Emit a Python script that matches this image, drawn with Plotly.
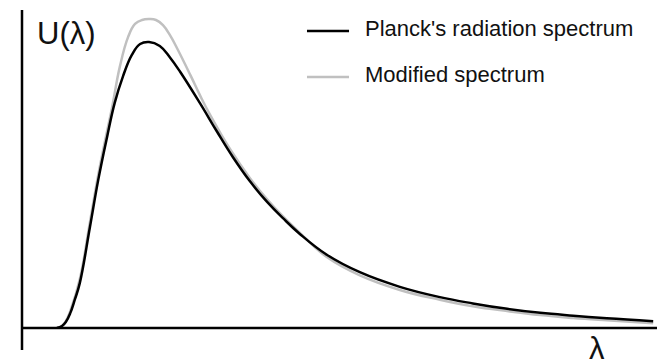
import plotly.graph_objects as go

# Wavelength (arbitrary units) and spectral energy density (arbitrary units)
lam_planck = [0.55, 0.63, 0.69, 0.76, 0.83, 0.91, 1.07, 1.20, 1.34, 1.46, 1.59, 1.73, 1.86, 2.00,
              2.17, 2.33, 2.49, 2.80, 3.07, 3.32, 3.59, 3.86, 4.11, 4.38, 4.80, 5.32, 5.95,
              6.58, 7.10, 7.64, 8.16, 8.68, 9.21, 9.94]
u_planck = [0.0, 0.7, 2.1, 5.2, 9.8, 15.7, 35.3, 51.7, 66.8, 78.7, 88.0, 95.5, 99.3, 100.0,
            98.6, 94.6, 89.6, 78.7, 68.7, 59.8, 51.3, 44.1, 38.4, 32.8, 25.6, 19.5, 14.4,
            10.8, 8.6, 6.7, 5.3, 4.3, 3.4, 2.4]

lam_mod = [0.55, 0.63, 0.69, 0.76, 0.91, 1.07, 1.20, 1.32, 1.42, 1.54, 1.67, 1.78, 1.89, 2.00,
           2.11, 2.22, 2.33, 2.44, 2.65, 2.80, 2.96, 3.28, 3.59, 3.86, 4.11, 4.38, 4.80,
           5.32, 5.95, 6.58, 7.10, 7.64, 8.16, 8.68, 9.21, 9.94]
u_mod = [0.0, 0.7, 2.4, 5.9, 17.1, 37.1, 53.5, 66.8, 77.3, 91.3, 101.7, 106.3, 107.7, 108.0,
         107.7, 105.9, 102.4, 97.9, 88.5, 81.5, 74.6, 62.4, 52.4, 45.0, 39.0, 33.2, 24.8,
         18.4, 13.3, 9.9, 7.6, 5.9, 4.5, 3.5, 2.7, 1.7]

series_names = ["Planck's radiation spectrum", "Modified spectrum"]
series_colors = ["#000000", "#c0c0c0"]
y_label = "U(λ)"
x_label = "λ"

FONT = "Liberation Sans, Arial, sans-serif"

fig = go.Figure()
fig.add_trace(go.Scatter(x=lam_mod, y=u_mod, mode="lines", name=series_names[1],
                         line=dict(color=series_colors[1], width=2.5, shape="spline", smoothing=1.2),
                         showlegend=False))
fig.add_trace(go.Scatter(x=lam_planck, y=u_planck, mode="lines", name=series_names[0],
                         line=dict(color=series_colors[0], width=2.5, shape="spline", smoothing=1.2),
                         showlegend=False))

shapes = [
    # axes
    dict(type="line", xref="paper", yref="paper", x0=0, x1=0, y0=-0.069, y1=1.0,
         line=dict(color="#000000", width=2.5)),
    dict(type="line", xref="paper", yref="paper", x0=0, x1=1, y0=0, y1=0,
         line=dict(color="#000000", width=2.5)),
    # legend samples
    dict(type="line", xref="paper", yref="paper", x0=0.4488, x1=0.5150, y0=0.934, y1=0.934,
         line=dict(color=series_colors[0], width=2.5)),
    dict(type="line", xref="paper", yref="paper", x0=0.4488, x1=0.5150, y0=0.789, y1=0.789,
         line=dict(color=series_colors[1], width=2.5)),
]

annotations = [
    dict(text=series_names[0], xref="paper", yref="paper", x=0.5370, y=0.943,
         xanchor="left", yanchor="middle", showarrow=False,
         font=dict(family=FONT, size=22, color="#111111")),
    dict(text=series_names[1], xref="paper", yref="paper", x=0.5370, y=0.796,
         xanchor="left", yanchor="middle", showarrow=False,
         font=dict(family=FONT, size=22, color="#111111")),
    dict(text=y_label, xref="paper", yref="paper", x=0.0693, y=0.926,
         xanchor="center", yanchor="middle", showarrow=False,
         font=dict(family=FONT, size=31, color="#111111")),
    dict(text=x_label, xref="paper", yref="paper", x=0.9055, y=-0.066,
         xanchor="center", yanchor="middle", showarrow=False,
         font=dict(family=FONT, size=31, color="#111111")),
]

fig.update_layout(
    width=667, height=362,
    margin=dict(l=22, r=10, t=10, b=34),
    paper_bgcolor="white", plot_bgcolor="white",
    xaxis=dict(range=[0, 10], visible=False, fixedrange=True),
    yaxis=dict(range=[0, 111.19], visible=False, fixedrange=True),
    shapes=shapes, annotations=annotations,
    showlegend=False,
)

fig.write_html("out.html", config={"displayModeBar": False},
               post_script="document.body.style.margin='0';document.body.style.overflow='hidden';")
